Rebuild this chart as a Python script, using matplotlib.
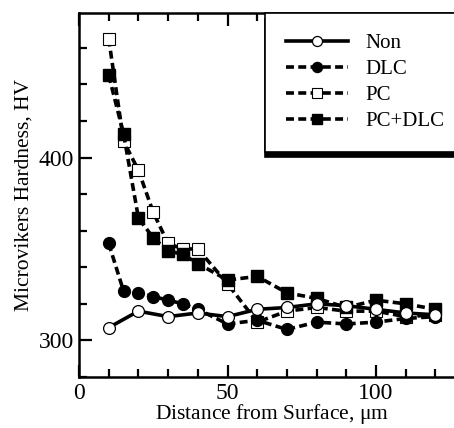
import matplotlib
matplotlib.use("Agg")
import matplotlib.pyplot as plt
from matplotlib.ticker import MultipleLocator

plt.rcParams['font.family'] = ['Liberation Serif', 'DejaVu Serif']
plt.rcParams['mathtext.fontset'] = 'stix'

# data
x_non = [10, 20, 30, 40, 50, 60, 70, 80, 90, 100, 110, 120]
y_non = [307, 316, 313, 315, 313, 317, 318, 320, 319, 317, 315, 314]

x_dlc = [10, 15, 20, 25, 30, 35, 40, 50, 60, 70, 80, 90, 100, 110, 120]
y_dlc = [353, 327, 326, 324, 322, 320, 317, 309, 311, 306, 310, 309, 310, 312, 313]

x_pc = [10, 15, 20, 25, 30, 35, 40, 50, 60, 70, 80, 90, 100, 110, 120]
y_pc = [465, 409, 393, 370, 353, 350, 350, 331, 310, 316, 318, 316, 316, 313, 314]

x_pcdlc = [10, 15, 20, 25, 30, 35, 40, 50, 60, 70, 80, 90, 100, 110, 120]
y_pcdlc = [445, 413, 367, 356, 349, 347, 342, 333, 335, 326, 323, 318, 322, 320, 317]

fig = plt.figure(figsize=(4.54, 4.28), dpi=100)
ax = fig.add_axes([79/454, 1-377/428, 130*2.97/454, 364/428])

lw = 2.6
dash = (2.2, 1.2)
ax.plot(x_pc, y_pc, color='black', lw=lw, ls=(0, dash), marker='s', ms=8.5,
        mfc='white', mec='black', mew=0.8, label='PC', zorder=2)
ax.plot(x_pcdlc, y_pcdlc, color='black', lw=lw, ls=(0, dash), marker='s', ms=8.5,
        mfc='black', mec='black', label='PC+DLC', zorder=3)
ax.plot(x_dlc, y_dlc, color='black', lw=lw, ls=(0, dash), marker='o', ms=8.5,
        mfc='black', mec='black', label='DLC', zorder=4)
ax.plot(x_non, y_non, color='black', lw=lw, ls='-', marker='o', ms=8.5,
        mfc='white', mec='black', mew=0.9, label='Non', zorder=5)

ax.set_xlim(0, 130)
ax.set_ylim(280, 479)
ax.xaxis.set_major_locator(MultipleLocator(50))
ax.xaxis.set_minor_locator(MultipleLocator(10))
ax.yaxis.set_major_locator(MultipleLocator(100))
ax.yaxis.set_minor_locator(MultipleLocator(20))
ax.tick_params(which='both', direction='in', top=True, right=False, width=1.6,
               labelsize=17)
ax.tick_params(which='major', length=9)
ax.tick_params(which='minor', length=6)
ax.tick_params(axis='x', pad=4)
for s in ax.spines.values():
    s.set_linewidth(1.8)

ax.set_xlabel('Distance from Surface, $\\mathregular{\\mu}$m', fontsize=15.5, labelpad=-1)
ax.set_ylabel('Microvikers Hardness, HV', fontsize=15.5, labelpad=4)

h, l = ax.get_legend_handles_labels()
order = [3, 2, 0, 1]
leg = ax.legend([h[i] for i in order], [l[i] for i in order],
                loc='upper left', bbox_to_anchor=(265/454, 1-13/428, 0.5, 0),
                bbox_transform=fig.transFigure, mode='expand', borderaxespad=0,
                fontsize=15, handlelength=3.0, handletextpad=0.8, numpoints=1,
                markerscale=0.85, fancybox=False, edgecolor='black',
                labelspacing=0.3, borderpad=1.0,
                shadow={'color': 'black', 'alpha': 1, 'ox': 0, 'oy': -4})
leg.get_frame().set_linewidth(1.2)

fig.savefig('out.png', dpi=100)
